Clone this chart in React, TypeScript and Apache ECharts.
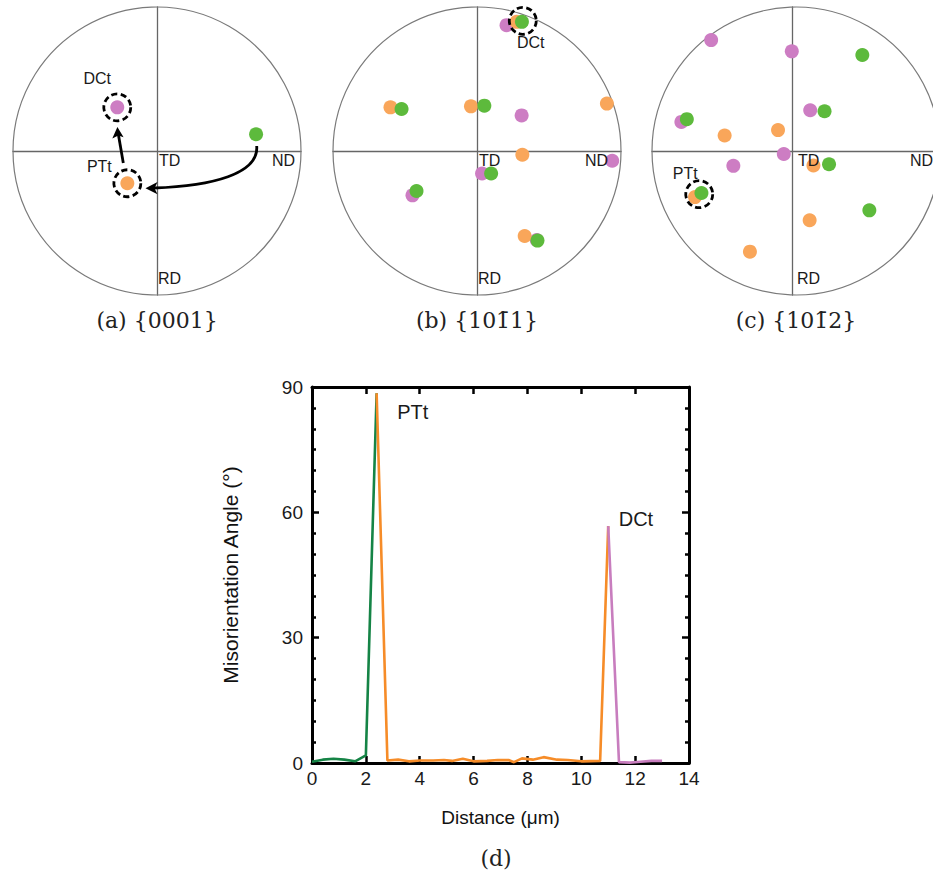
import React, { useEffect, useRef } from "react";
import * as echarts from "echarts";

// ---------- Pole figure data (normalised stereographic coordinates, -1..1) ----------
const aPink = [[-0.276, 0.303]];
const aOrange = [[-0.206, -0.224]];
const aGreen = [[0.688, 0.116]];
const aMarked = [[-0.276, 0.303], [-0.206, -0.224]];
const aMarkedLabels = ["DCt", "PTt"];

const bPink = [[0.205, 0.874], [0.31, 0.247], [0.939, -0.068], [0.035, -0.156], [-0.448, -0.308], [0.415, -0.618]];
const bOrange = [[0.275, 0.897], [-0.601, 0.303], [-0.042, 0.31], [0.902, 0.329], [0.315, -0.026], [0.331, -0.59]];
const bGreen = [[0.312, 0.897], [-0.524, 0.292], [0.051, 0.315], [0.098, -0.156], [-0.42, -0.278], [0.42, -0.622]];
const bMarked = [[0.318, 0.904]];
const bMarkedLabels = ["DCt"];

const cPink = [[-0.579, 0.77], [-0.005, 0.692], [0.126, 0.283], [-0.791, 0.202], [-0.062, -0.021], [-0.421, -0.103]];
const cOrange = [[-0.483, 0.108], [-0.103, 0.145], [0.149, -0.101], [-0.694, -0.32], [0.122, -0.481], [-0.303, -0.699]];
const cGreen = [[0.497, 0.667], [0.228, 0.276], [-0.752, 0.221], [0.26, -0.092], [-0.648, -0.292], [0.547, -0.412]];
const cMarked = [[-0.664, -0.3]];
const cMarkedLabels = ["PTt"];

const poleCaptions = ["(a) {0001}", "(b) {10" + "1\u0304" + "1}", "(c) {10" + "1\u0304" + "2}"];
const poleAxisNames = ["TD", "ND", "RD"];

// ---------- Misorientation profile (distance µm, angle °) ----------
const greenSegment = [[0, 0.3], [0.4, 0.8], [0.8, 1.0], [1.2, 0.8], [1.6, 0.4], [2.0, 1.8], [2.4, 88.5]];
const orangeSegment = [
  [2.4, 88.5], [2.8, 0.6], [3.2, 0.8], [3.6, 0.4], [4.0, 0.6], [4.5, 0.6], [4.9, 0.7], [5.2, 0.5],
  [5.6, 1.0], [6.0, 0.4], [6.5, 0.5], [6.9, 0.7], [7.3, 0.7], [7.5, 0.2], [7.8, 1.1], [8.2, 0.8],
  [8.6, 1.4], [9.1, 0.8], [9.5, 0.7], [10.0, 0.4], [10.7, 0.5], [11.0, 56.7],
];
const pinkSegment = [[11.0, 56.7], [11.4, 0.2], [11.8, 0.1], [12.2, 0.3], [12.6, 0.5], [13.0, 0.5]];
const peakLabels = ["PTt", "DCt"];
const xTicks = { min: 0, max: 14, interval: 2 };
const yTicks = { min: 0, max: 90, interval: 30 };
const xName = "Distance (\u03bcm)";
const yName = "Misorientation Angle (\u00b0)";
const panelDLabel = "(d)";

const PINK = "#cd7dc3";
const ORANGE = "#f9a65a";
const GREEN = "#5dba3c";
const LINE_GREEN = "#158446";
const LINE_ORANGE = "#f68c28";
const LINE_PINK = "#c87dbe";
const SANS = "'Liberation Sans', Arial, sans-serif";
const SERIF = "'DejaVu Serif', serif";

const App: React.FC = () => {
  const ref = useRef<HTMLDivElement>(null);

  useEffect(() => {
    document.body.style.margin = "0";
    if (!ref.current) return;
    const chart = echarts.init(ref.current, undefined, { renderer: "svg" });

    const R = 144;
    const centers = [
      [157, 151],
      [477, 151],
      [796, 151],
    ];
    const ndRight = [138, 131, 137];

    const poleGrids = centers.map(([cx, cy]) => ({ left: cx - R, top: cy - R, width: 2 * R, height: 2 * R }));

    const poleAxis = (i: number) => ({
      gridIndex: i,
      type: "value",
      min: -1,
      max: 1,
      axisLine: { show: true, onZero: true, lineStyle: { color: "#666", width: 1.3 } },
      axisTick: { show: false },
      axisLabel: { show: false },
      splitLine: { show: false },
    });

    const dots = (i: number, data: number[][], color: string) => ({
      type: "scatter",
      xAxisIndex: i,
      yAxisIndex: i,
      data,
      symbolSize: 14,
      clip: false,
      silent: true,
      itemStyle: { color, opacity: 1 },
      z: 3,
    });

    const marked = (i: number, pts: number[][], labels: string[], offsets: number[][]) => ({
      type: "scatter",
      xAxisIndex: i,
      yAxisIndex: i,
      clip: false,
      silent: true,
      symbolSize: 27,
      z: 4,
      itemStyle: { color: "rgba(0,0,0,0)", borderColor: "#000", borderWidth: 2.8, borderType: [6, 3.5], opacity: 1 },
      data: pts.map((p, k) => ({
        value: p,
        label: {
          show: true,
          position: "inside",
          formatter: labels[k],
          offset: offsets[k],
          fontSize: 16,
          fontFamily: SANS,
          color: "#1a1a1a",
          opacity: 1,
        },
      })),
    });

    const lineAxisCommon = {
      gridIndex: 3,
      type: "value",
      axisLine: { show: true, onZero: false, lineStyle: { color: "#000", width: 3 } },
      axisTick: { show: true, inside: true, length: 7, lineStyle: { color: "#000", width: 2.5 } },
      splitLine: { show: false },
    };

    const graphics: any[] = [];
    centers.forEach(([cx, cy], i) => {
      graphics.push({
        type: "circle",
        z: 1,
        shape: { cx, cy, r: R },
        style: { fill: "none", stroke: "#7a7a7a", lineWidth: 1.2 },
        silent: true,
      });
      const txt = (t: string, x: number, y: number, align: string) => ({
        type: "text",
        z: 5,
        x,
        y,
        silent: true,
        style: { text: t, fontSize: 16, fontFamily: SANS, fill: "#1a1a1a", align, verticalAlign: "top" },
      });
      graphics.push(txt(poleAxisNames[0], cx + 2, cy + 1, "left"));
      graphics.push(txt(poleAxisNames[1], cx + ndRight[i], cy + 1, "right"));
      graphics.push(txt(poleAxisNames[2], cx + 1, cy + 119, "left"));
      graphics.push({
        type: "text",
        z: 5,
        x: cx,
        y: 320,
        silent: true,
        style: { text: poleCaptions[i], fontSize: 22, fontFamily: SERIF, fill: "#222", align: "center", verticalAlign: "middle" },
      });
    });
    graphics.push({
      type: "text",
      z: 5,
      x: 496,
      y: 858,
      silent: true,
      style: { text: panelDLabel, fontSize: 22, fontFamily: SERIF, fill: "#222", align: "center", verticalAlign: "middle" },
    });
    // arrows in panel (a)
    graphics.push({
      type: "line",
      z: 6,
      silent: true,
      shape: { x1: 123.3, y1: 163, x2: 118.3, y2: 134 },
      style: { stroke: "#000", lineWidth: 2.8 },
    });
    graphics.push({
      type: "polygon",
      z: 6,
      silent: true,
      shape: { points: [[117.4, 127], [112.3, 138.5], [118.3, 135.5], [123.6, 137.3]] },
      style: { fill: "#000" },
    });
    graphics.push({
      type: "bezierCurve",
      z: 6,
      silent: true,
      shape: { x1: 256.7, y1: 146, cpx1: 259, cpy1: 174, cpx2: 212, cpy2: 186, x2: 154, y2: 188 },
      style: { stroke: "#000", lineWidth: 2.8, fill: "none" },
    });
    graphics.push({
      type: "polygon",
      z: 6,
      silent: true,
      shape: { points: [[145.5, 188.2], [157.5, 182], [154.5, 188.2], [157.5, 194.2]] },
      style: { fill: "#000" },
    });

    const peakA = greenSegment[greenSegment.length - 1];
    const peakB = pinkSegment[0];

    const option: any = {
      animation: false,
      backgroundColor: "#fff",
      grid: [...poleGrids, { left: 312, top: 387, width: 377, height: 376 }],
      xAxis: [
        poleAxis(0),
        poleAxis(1),
        poleAxis(2),
        {
          ...lineAxisCommon,
          position: "bottom",
          min: xTicks.min,
          max: xTicks.max,
          interval: xTicks.interval,
          axisLabel: { show: true, margin: 6, fontSize: 19, fontFamily: SANS, color: "#1a1a1a" },
          name: xName,
          nameLocation: "middle",
          nameGap: 45,
          nameTextStyle: { fontSize: 19, fontFamily: SANS, color: "#111" },
        },
        {
          ...lineAxisCommon,
          position: "top",
          min: xTicks.min,
          max: xTicks.max,
          interval: xTicks.interval,
          axisLabel: { show: false },
        },
      ],
      yAxis: [
        poleAxis(0),
        poleAxis(1),
        poleAxis(2),
        {
          ...lineAxisCommon,
          position: "left",
          min: yTicks.min,
          max: yTicks.max,
          interval: yTicks.interval,
          minorTick: { show: true, splitNumber: 6, length: 4, lineStyle: { color: "#000", width: 2.5 } },
          axisLabel: { show: true, margin: 9, fontSize: 19, fontFamily: SANS, color: "#1a1a1a" },
          name: yName,
          nameLocation: "middle",
          nameGap: 71,
          nameTextStyle: { fontSize: 21, fontFamily: SANS, color: "#111" },
        },
        {
          ...lineAxisCommon,
          position: "right",
          min: yTicks.min,
          max: yTicks.max,
          interval: yTicks.interval,
          minorTick: { show: true, splitNumber: 6, length: 4, lineStyle: { color: "#000", width: 2.5 } },
          axisLabel: { show: false },
        },
      ],
      graphic: graphics,
      series: [
        dots(0, aPink, PINK),
        dots(0, aOrange, ORANGE),
        dots(0, aGreen, GREEN),
        marked(0, aMarked, aMarkedLabels, [[-20, -29], [-28, -17]]),
        dots(1, bPink, PINK),
        dots(1, bOrange, ORANGE),
        dots(1, bGreen, GREEN),
        marked(1, bMarked, bMarkedLabels, [[8, 22]]),
        dots(2, cPink, PINK),
        dots(2, cOrange, ORANGE),
        dots(2, cGreen, GREEN),
        marked(2, cMarked, cMarkedLabels, [[-14, -21]]),
        {
          type: "line",
          xAxisIndex: 3,
          yAxisIndex: 3,
          data: greenSegment,
          showSymbol: false,
          symbol: "none",
          silent: true,
          lineStyle: { color: LINE_GREEN, width: 2.6 },
          z: 3,
        },
        {
          type: "line",
          xAxisIndex: 3,
          yAxisIndex: 3,
          data: orangeSegment,
          showSymbol: false,
          symbol: "none",
          silent: true,
          lineStyle: { color: LINE_ORANGE, width: 2.6 },
          z: 4,
        },
        {
          type: "line",
          xAxisIndex: 3,
          yAxisIndex: 3,
          data: pinkSegment,
          showSymbol: false,
          symbol: "none",
          silent: true,
          lineStyle: { color: LINE_PINK, width: 2.6 },
          z: 5,
          markPoint: {
            silent: true,
            symbol: "rect",
            symbolSize: 1,
            itemStyle: { color: "rgba(0,0,0,0)" },
            label: { show: true, position: "right", fontSize: 20, fontFamily: SANS, color: "#1a1a1a" },
            data: [
              { coord: peakA, label: { formatter: peakLabels[0], offset: [15, 19] } },
              { coord: peakB, label: { formatter: peakLabels[1], offset: [5, -7] } },
            ],
          },
        },
      ],
    };

    chart.setOption(option);
    return () => chart.dispose();
  }, []);

  return <div ref={ref} style={{ width: 933, height: 877 }} />;
};

export default App;
